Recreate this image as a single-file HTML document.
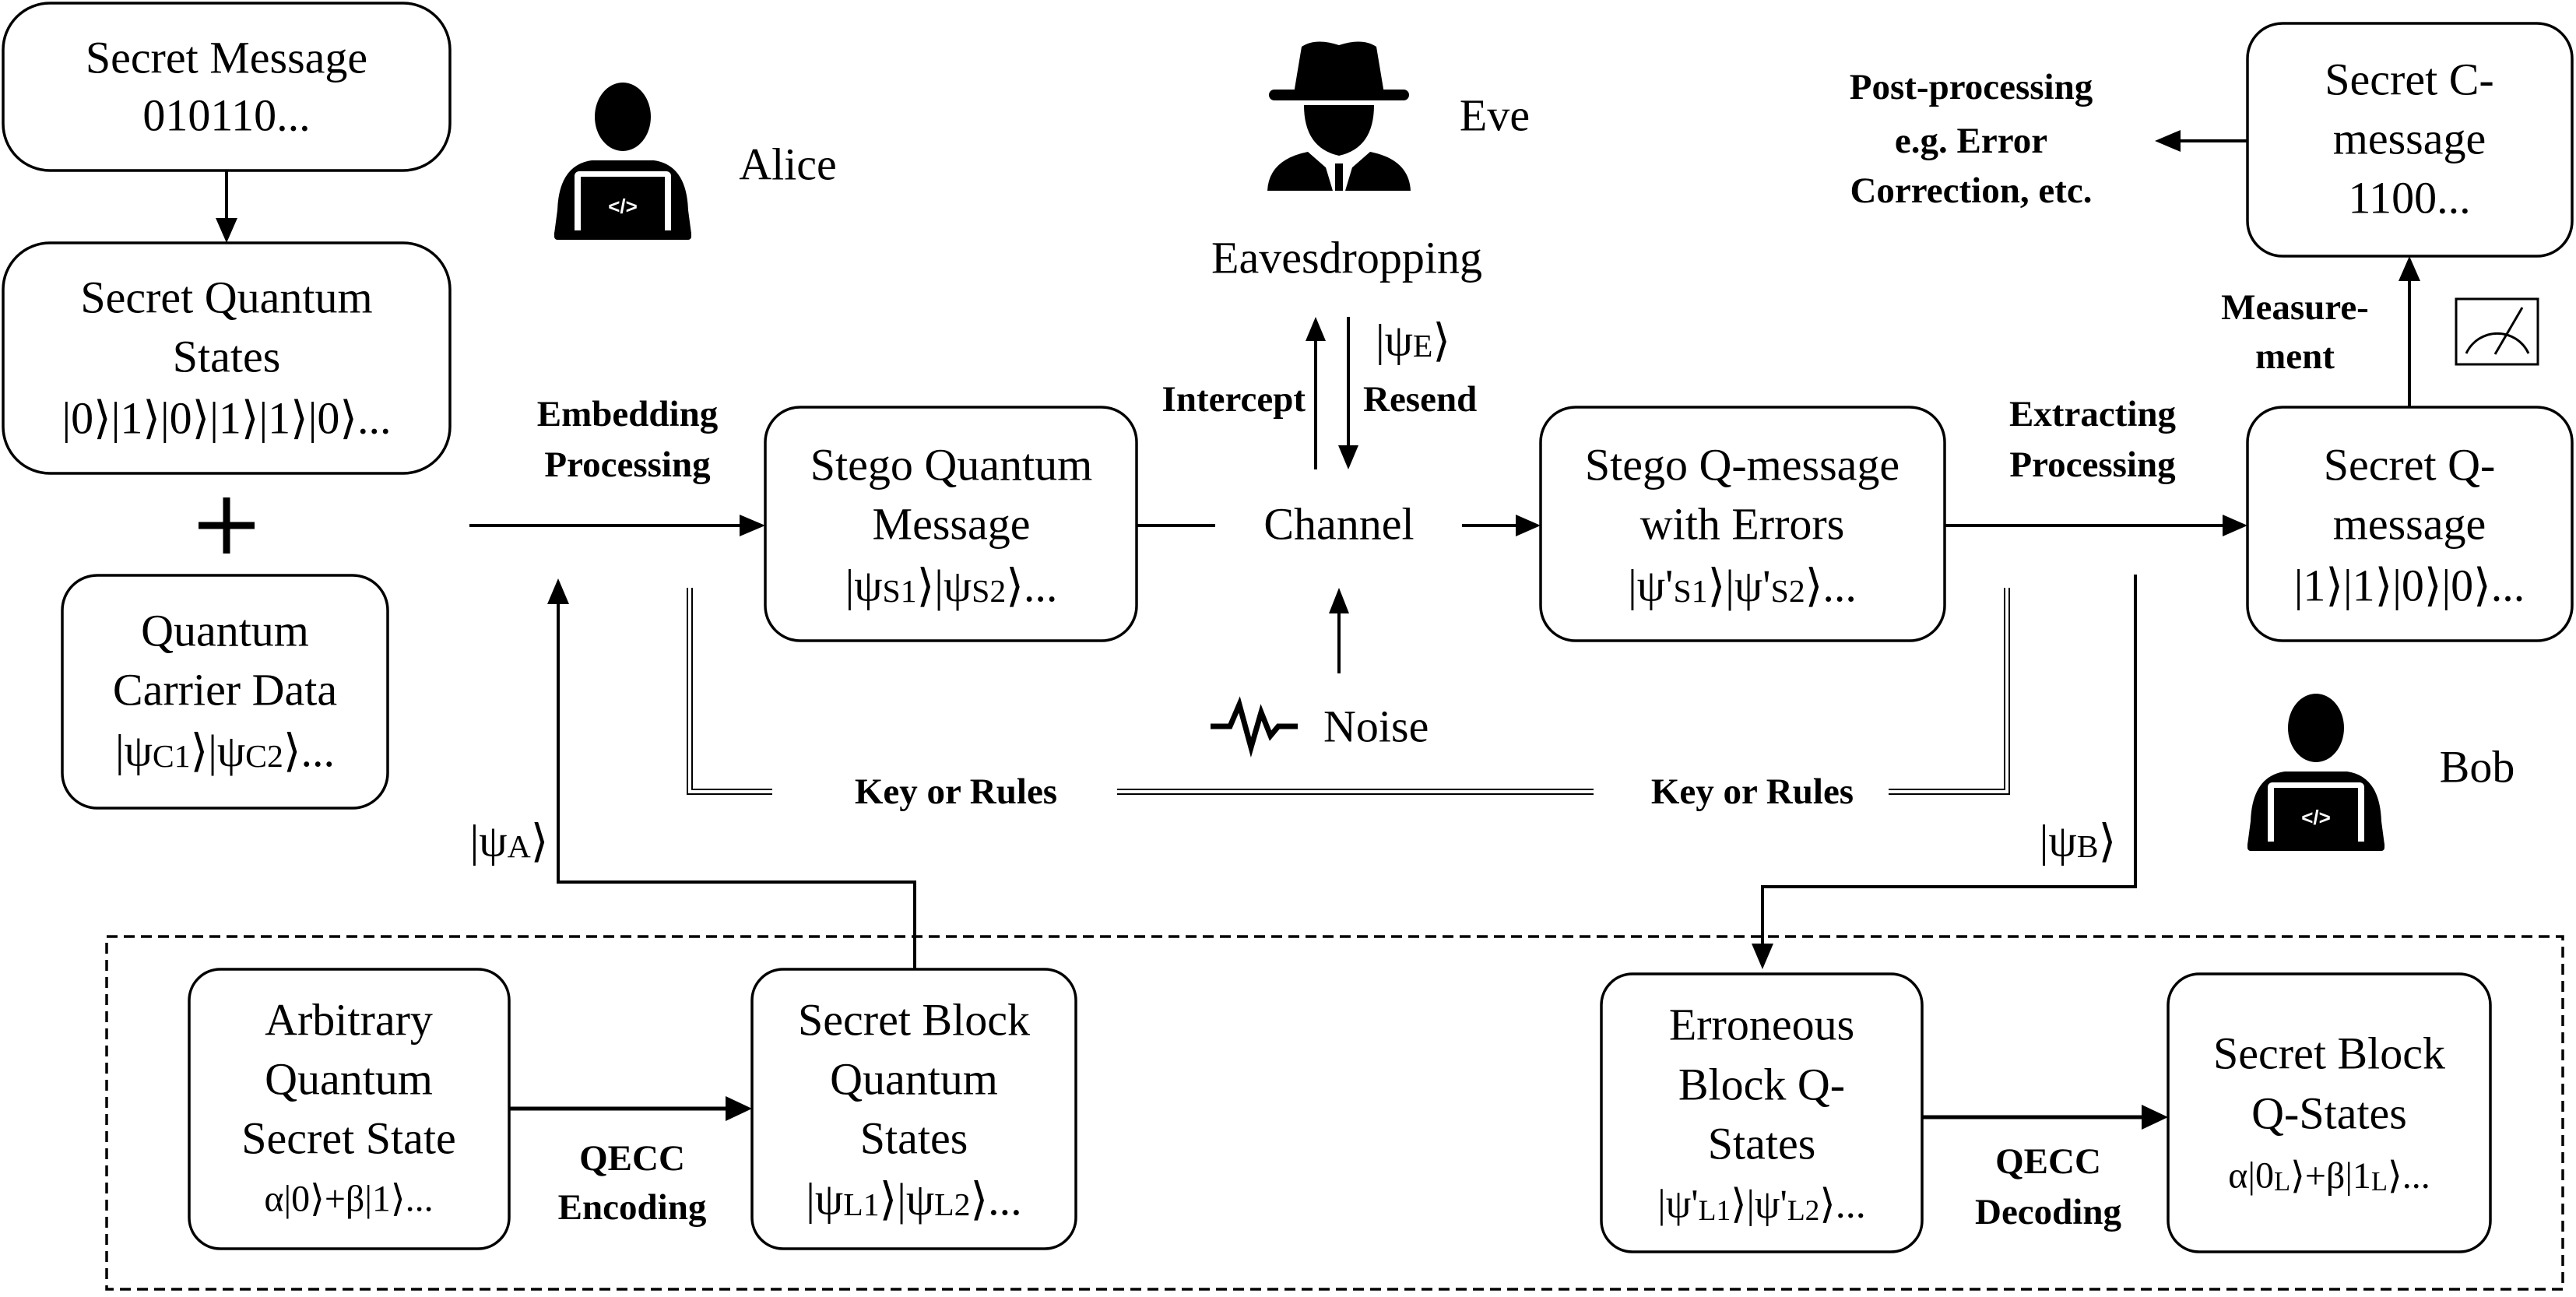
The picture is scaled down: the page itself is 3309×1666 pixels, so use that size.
<!DOCTYPE html>
<html><head><meta charset="utf-8"><style>
html,body{margin:0;padding:0;background:#fff;}
svg{display:block;}
text{font-family:"Liberation Serif","Times New Roman",Times,serif;fill:#000;}
.t{font-size:58px;text-anchor:middle;dominant-baseline:central;}
.b{font-size:47px;font-weight:bold;text-anchor:middle;dominant-baseline:central;}
.s{font-size:0.72em;}
</style></head><body>
<svg width="3309" height="1666" viewBox="0 0 3309 1666" xmlns="http://www.w3.org/2000/svg" font-family="Liberation Serif, serif">
<g fill="none" stroke="#000" stroke-width="3.5">
<rect x="4" y="4" width="574" height="215" rx="60"/>
<rect x="4" y="312" width="574" height="296" rx="60"/>
<rect x="80" y="739" width="418" height="299" rx="45"/>
<rect x="983" y="523" width="477" height="300" rx="45"/>
<rect x="1979" y="523" width="519" height="300" rx="45"/>
<rect x="2887" y="523" width="417" height="300" rx="45"/>
<rect x="2887" y="30" width="417" height="299" rx="45"/>
<rect x="243" y="1245" width="411" height="359" rx="40"/>
<rect x="966" y="1245" width="416" height="359" rx="40"/>
<rect x="2057" y="1251" width="412" height="357" rx="40"/>
<rect x="2785" y="1251" width="414" height="357" rx="40"/>
<rect x="137" y="1203" width="3155" height="453" stroke-dasharray="14,8"/>
</g>
<g stroke="#000" stroke-width="4" fill="none">
<line x1="291" y1="219" x2="291" y2="285"/>
<path d="M277,280 L305,280 L291,312 z" fill="#000" stroke="none"/>
<line x1="603" y1="675" x2="955" y2="675"/>
<path d="M950,661 L983,675 L950,689 z" fill="#000" stroke="none"/>
<line x1="1460" y1="675" x2="1561" y2="675"/>
<line x1="1878" y1="675" x2="1950" y2="675"/>
<path d="M1947,661 L1979,675 L1947,689 z" fill="#000" stroke="none"/>
<line x1="2498" y1="675" x2="2858" y2="675"/>
<path d="M2855,661 L2887,675 L2855,689 z" fill="#000" stroke="none"/>
<line x1="3095" y1="523" x2="3095" y2="358"/>
<path d="M3081,361 L3109,361 L3095,329 z" fill="#000" stroke="none"/>
<line x1="2887" y1="181" x2="2798" y2="181"/>
<path d="M2801,167 L2801,195 L2768,181 z" fill="#000" stroke="none"/>
<line x1="1690" y1="603" x2="1690" y2="435"/>
<path d="M1677,438 L1703,438 L1690,407 z" fill="#000" stroke="none"/>
<line x1="1732" y1="407" x2="1732" y2="575"/>
<path d="M1719,572 L1745,572 L1732,603 z" fill="#000" stroke="none"/>
<line x1="1720" y1="865" x2="1720" y2="785"/>
<path d="M1707,788 L1733,788 L1720,755 z" fill="#000" stroke="none"/>
<polyline points="1175,1245 1175,1133 717,1133 717,773"/>
<path d="M703,776 L731,776 L717,743 z" fill="#000" stroke="none"/>
<polyline points="2743,738 2743,1139 2264,1139 2264,1215"/>
<path d="M2250,1212 L2278,1212 L2264,1245 z" fill="#000" stroke="none"/>
<line x1="654" y1="1424" x2="935" y2="1424" stroke-width="5"/>
<path d="M932,1408 L966,1424 L932,1440 z" fill="#000" stroke="none"/>
<line x1="2469" y1="1435" x2="2754" y2="1435" stroke-width="5"/>
<path d="M2751,1419 L2785,1435 L2751,1451 z" fill="#000" stroke="none"/>
</g>
<g stroke="#000" stroke-width="2" fill="none">
<polyline points="883,755 883,1020 992,1020"/>
<polyline points="889,755 889,1014 992,1014"/>
<line x1="1435" y1="1014" x2="2047" y2="1014"/><line x1="1435" y1="1020" x2="2047" y2="1020"/>
<polyline points="2426,1014 2575,1014 2575,755"/>
<polyline points="2426,1020 2581,1020 2581,755"/>
</g>
<g stroke="#000" stroke-width="9"><line x1="255" y1="675" x2="327" y2="675"/><line x1="291" y1="639" x2="291" y2="711"/></g>
<g fill="none" stroke="#000" stroke-width="3"><rect x="3155" y="384" width="105" height="84"/><path d="M3168,454 A44,44 0 0 1 3248,454"/><line x1="3205" y1="455" x2="3240" y2="395"/></g>
<polyline points="1555,933 1580,933 1592,905 1607,960 1620,915 1632,945 1642,933 1667,933" fill="none" stroke="#000" stroke-width="7"/>
<g id="alice" fill="#000">
<ellipse cx="800" cy="150" rx="36" ry="44"/>
<path d="M716,270 Q718,212 760,206 L840,206 Q882,212 884,270 L888,300 L712,300 z"/>
<rect x="738" y="220" width="124" height="82" rx="6" fill="#fff"/>
<rect x="746" y="227" width="108" height="72" fill="#000"/>
<rect x="712" y="296" width="176" height="12" rx="4"/>
<text x="800" y="274" font-size="26" style="fill:#fff;text-anchor:middle;font-family:'Liberation Sans',sans-serif;font-weight:bold">&lt;/&gt;</text>
</g>
<g fill="#000" transform="translate(2175,785)">
<ellipse cx="800" cy="150" rx="36" ry="44"/>
<path d="M716,270 Q718,212 760,206 L840,206 Q882,212 884,270 L888,300 L712,300 z"/>
<rect x="738" y="220" width="124" height="82" rx="6" fill="#fff"/>
<rect x="746" y="227" width="108" height="72" fill="#000"/>
<rect x="712" y="296" width="176" height="12" rx="4"/>
<text x="800" y="274" font-size="26" style="fill:#fff;text-anchor:middle;font-family:'Liberation Sans',sans-serif;font-weight:bold">&lt;/&gt;</text>
</g>
<g fill="#000">
<path d="M1662,120 L1672,60 Q1690,48 1720,58 Q1750,48 1768,60 L1778,120 z"/>
<rect x="1630" y="115" width="180" height="14" rx="7"/>
<path d="M1675,135 L1765,135 Q1765,190 1720,200 Q1675,190 1675,135 z"/>
<path d="M1628,245 Q1630,205 1680,195 L1720,230 L1760,195 Q1810,205 1812,245 z"/>
<path d="M1700,205 L1740,205 L1728,245 L1712,245 z" fill="#fff"/>
<rect x="1715" y="210" width="10" height="35"/>
</g>
<text class="t" x="291" y="74">Secret Message</text>
<text class="t" x="291" y="148">010110...</text>
<text class="t" x="291" y="382">Secret Quantum</text>
<text class="t" x="291" y="458">States</text>
<text class="t" x="291" y="537">|0⟩|1⟩|0⟩|1⟩|1⟩|0⟩...</text>
<text class="t" x="289" y="810">Quantum</text>
<text class="t" x="289" y="886">Carrier Data</text>
<text class="t" x="289" y="964">|ψ<tspan class="s" dy="8">C1</tspan><tspan dy="-8">⟩|ψ</tspan><tspan class="s" dy="8">C2</tspan><tspan dy="-8">⟩...</tspan></text>
<text class="t" x="1012" y="211">Alice</text>
<text class="b" x="806" y="532">Embedding</text>
<text class="b" x="806" y="597">Processing</text>
<text class="t" x="1222" y="597">Stego Quantum</text>
<text class="t" x="1222" y="673">Message</text>
<text class="t" x="1222" y="752">|ψ<tspan class="s" dy="8">S1</tspan><tspan dy="-8">⟩|ψ</tspan><tspan class="s" dy="8">S2</tspan><tspan dy="-8">⟩...</tspan></text>
<text class="t" x="1720" y="673">Channel</text>
<text class="t" x="1920" y="148">Eve</text>
<text class="t" x="1730" y="331">Eavesdropping</text>
<text class="t" x="1815" y="437">|ψ<tspan class="s" dy="8">E</tspan><tspan dy="-8">⟩</tspan></text>
<text class="b" x="1677" y="513" style="text-anchor:end">Intercept</text>
<text class="b" x="1751" y="513" style="text-anchor:start">Resend</text>
<text class="t" x="1700" y="933" style="text-anchor:start">Noise</text>
<text class="t" x="2238" y="597">Stego Q-message</text>
<text class="t" x="2238" y="673">with Errors</text>
<text class="t" x="2238" y="752">|ψ'<tspan class="s" dy="8">S1</tspan><tspan dy="-8">⟩|ψ'</tspan><tspan class="s" dy="8">S2</tspan><tspan dy="-8">⟩...</tspan></text>
<text class="b" x="2688" y="532">Extracting</text>
<text class="b" x="2688" y="597">Processing</text>
<text class="t" x="3095" y="597">Secret Q-</text>
<text class="t" x="3095" y="673">message</text>
<text class="t" x="3095" y="752">|1⟩|1⟩|0⟩|0⟩...</text>
<text class="t" x="3095" y="102">Secret C-</text>
<text class="t" x="3095" y="178">message</text>
<text class="t" x="3095" y="254">1100...</text>
<text class="b" x="2532" y="112">Post-processing</text>
<text class="b" x="2532" y="181">e.g. Error</text>
<text class="b" x="2532" y="245">Correction, etc.</text>
<text class="b" x="2948" y="395">Measure-</text>
<text class="b" x="2948" y="458">ment</text>
<text class="b" x="1228" y="1017">Key or Rules</text>
<text class="b" x="2251" y="1017">Key or Rules</text>
<text class="t" x="654" y="1080">|ψ<tspan class="s" dy="8">A</tspan><tspan dy="-8">⟩</tspan></text>
<text class="t" x="2669" y="1080">|ψ<tspan class="s" dy="8">B</tspan><tspan dy="-8">⟩</tspan></text>
<text class="t" x="3182" y="985">Bob</text>
<text class="t" x="448" y="1310">Arbitrary</text>
<text class="t" x="448" y="1386">Quantum</text>
<text class="t" x="448" y="1462">Secret State</text>
<text class="t" x="448" y="1540" style="font-size:48px">α|0⟩+β|1⟩...</text>
<text class="t" x="1174" y="1310">Secret Block</text>
<text class="t" x="1174" y="1386">Quantum</text>
<text class="t" x="1174" y="1462">States</text>
<text class="t" x="1174" y="1540">|ψ<tspan class="s" dy="8">L1</tspan><tspan dy="-8">⟩|ψ</tspan><tspan class="s" dy="8">L2</tspan><tspan dy="-8">⟩...</tspan></text>
<text class="b" x="812" y="1488">QECC</text>
<text class="b" x="812" y="1551">Encoding</text>
<text class="t" x="2263" y="1316">Erroneous</text>
<text class="t" x="2263" y="1393">Block Q-</text>
<text class="t" x="2263" y="1469">States</text>
<text class="t" x="2263" y="1547" style="font-size:52px">|ψ'<tspan class="s" dy="8">L1</tspan><tspan dy="-8">⟩|ψ'</tspan><tspan class="s" dy="8">L2</tspan><tspan dy="-8">⟩...</tspan></text>
<text class="b" x="2631" y="1492">QECC</text>
<text class="b" x="2631" y="1557">Decoding</text>
<text class="t" x="2992" y="1353">Secret Block</text>
<text class="t" x="2992" y="1430">Q-States</text>
<text class="t" x="2992" y="1510" style="font-size:48px">α|0<tspan class="s" dy="8">L</tspan><tspan dy="-8">⟩+β|1</tspan><tspan class="s" dy="8">L</tspan><tspan dy="-8">⟩...</tspan></text>
</svg>
</body></html>
